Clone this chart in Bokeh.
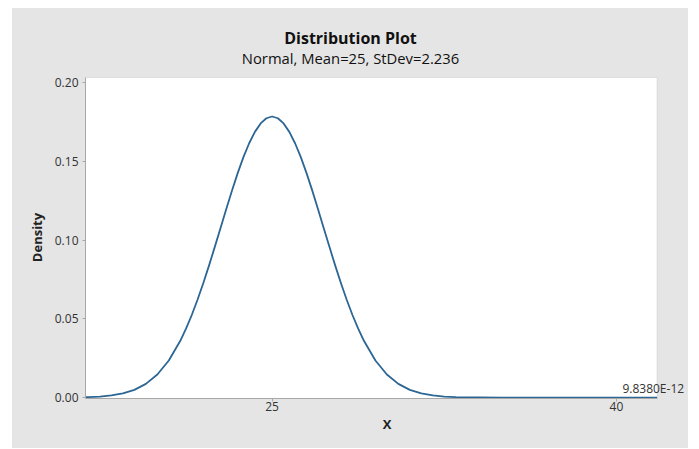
from bokeh.plotting import figure
from bokeh.models import (FixedTicker, PrintfTickFormatter, Label, Range1d,
                          ColumnDataSource, Spacer, BoxAnnotation)
from bokeh.layouts import row, column
from bokeh.embed import file_html
from bokeh.resources import INLINE

# ---- data (Normal, Mean=25, StDev=2.236) ----
x_vals = [16.87, 17.0, 17.5, 18.0, 18.5, 19.0, 19.5, 20.0, 20.5, 21.0,
          21.25, 21.5, 21.75, 22.0, 22.25, 22.5, 22.75, 23.0, 23.25, 23.5,
          23.75, 24.0, 24.25, 24.5, 24.75, 25.0, 25.25, 25.5, 25.75, 26.0,
          26.25, 26.5, 26.75, 27.0, 27.25, 27.5, 27.75, 28.0, 28.25, 28.5,
          28.75, 29.0, 29.5, 30.0, 30.5, 31.0, 31.5, 32.0, 32.5, 33.0,
          34.0, 35.0, 36.0, 41.77]
density = [0.00024, 0.00030, 0.00064, 0.00133, 0.00261, 0.00487, 0.00866,
           0.01464, 0.02355, 0.03602, 0.04372, 0.05241, 0.06205, 0.07254,
           0.08375, 0.09550, 0.10754, 0.11959, 0.13134, 0.14246, 0.15260,
           0.16143, 0.16865, 0.17401, 0.17730, 0.17841, 0.17730, 0.17401,
           0.16865, 0.16143, 0.15260, 0.14246, 0.13134, 0.11959, 0.10754,
           0.09550, 0.08375, 0.07254, 0.06205, 0.05241, 0.04372, 0.03602,
           0.02355, 0.01464, 0.00866, 0.00487, 0.00261, 0.00133, 0.00064,
           0.00030, 0.000054, 0.000008, 0.0, 0.0]
x_ticks = [25, 40]
y_ticks = [0.0, 0.05, 0.10, 0.15, 0.20]
x_min, x_max = 16.87, 41.77
y_min, y_max = -0.0006, 0.2032
title_text = "Distribution Plot"
subtitle_text = "Normal, Mean=25, StDev=2.236"
tail_text = "9.8380E-12"
tail_x = 40.26
x_label = "X"
y_label = "Density"

FONT = "Open Sans"
BG = "#e5e5e5"
W = 676
LEFT = 73
FW = 603

# ---- header strip holding title and subtitle ----
t = figure(width=W, height=60, output_backend="svg", toolbar_location=None,
           x_range=Range1d(0, FW), y_range=Range1d(0, 60),
           frame_width=FW, frame_height=60,
           min_border_left=LEFT, min_border_right=0,
           min_border_top=0, min_border_bottom=0,
           x_axis_type=None, y_axis_type=None)
t.background_fill_color = BG
t.border_fill_color = BG
t.outline_line_color = None
t.grid.visible = False
t.add_layout(Label(x=265, y=31, text=title_text, text_font=FONT,
                   text_font_size="16px", text_font_style="bold",
                   text_align="center", text_baseline="middle",
                   text_color="#111111"))
t.add_layout(Label(x=265, y=11, text=subtitle_text, text_font=FONT,
                   text_font_size="14.8px", text_align="center",
                   text_baseline="middle", text_color="#111111"))

# ---- main plot ----
p = figure(width=W, height=380, output_backend="svg", toolbar_location=None,
           x_range=Range1d(x_min, 43.14), y_range=Range1d(y_min, 0.2038),
           frame_width=FW, frame_height=322,
           min_border_left=LEFT, min_border_right=0,
           min_border_top=8, min_border_bottom=50)
p.background_fill_color = BG
p.border_fill_color = BG
p.outline_line_color = None
p.grid.visible = False

# white plotting area with thin grey border
p.add_layout(BoxAnnotation(left=x_min, right=x_max, bottom=y_min, top=y_max,
                           fill_color="white", fill_alpha=1.0,
                           line_color="#b4b4b4", line_width=1,
                           level="underlay"))

src = ColumnDataSource(data=dict(x=x_vals, y=density))
p.line("x", "y", source=src, line_color="#2c6694", line_width=1.8,
       line_join="round")

for ax in (p.xaxis[0], p.yaxis[0]):
    ax.axis_line_color = "#a8a8a8"
    ax.major_tick_line_color = "#a8a8a8"
    ax.major_tick_in = 0
    ax.major_tick_out = 3
    ax.minor_tick_line_color = None
    ax.major_label_text_font = FONT
    ax.major_label_text_font_size = "12px"
    ax.major_label_text_color = "#333333"
    ax.axis_label_text_font = FONT
    ax.axis_label_text_font_size = "13px"
    ax.axis_label_text_font_style = "bold"
    ax.axis_label_text_color = "#222222"

p.xaxis.ticker = FixedTicker(ticks=x_ticks)
p.yaxis.ticker = FixedTicker(ticks=y_ticks)
p.yaxis.formatter = PrintfTickFormatter(format="%.2f")
p.xaxis.bounds = (x_min, x_max)
p.yaxis.bounds = (y_min, y_max)
p.xaxis.axis_label = x_label
p.yaxis.axis_label = y_label
p.xaxis.major_label_standoff = 0
p.yaxis.major_label_standoff = 4
p.xaxis.axis_label_standoff = 1
p.yaxis.axis_label_standoff = 6

p.add_layout(Label(x=tail_x, y=0.0057, text=tail_text, text_font=FONT,
                   text_font_size="12px", text_align="left",
                   text_baseline="middle", text_color="#333333"))

inner = column(t, p, spacing=0, styles={"background-color": BG})
layout = column(Spacer(width=10, height=8),
                row(Spacer(width=12, height=440), inner))
open("out.html", "w").write(file_html(layout, INLINE))
